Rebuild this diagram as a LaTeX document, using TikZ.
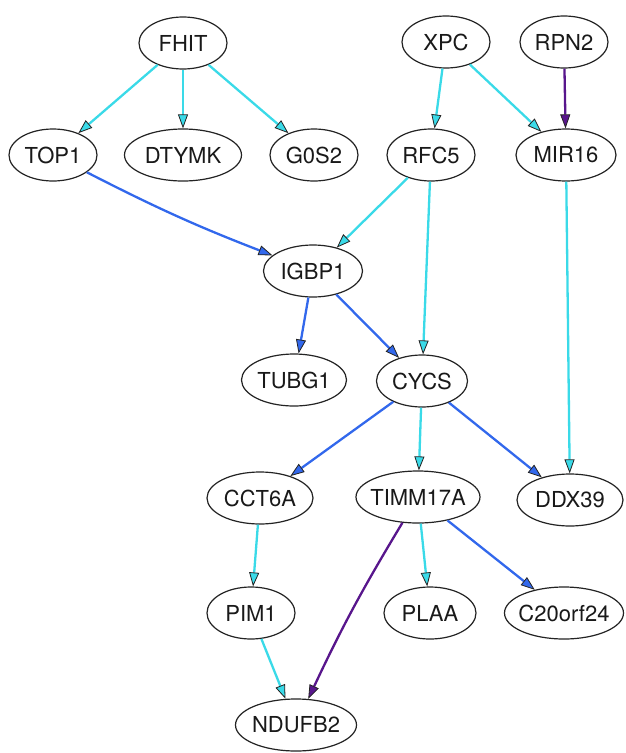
\documentclass[tikz,border=0pt]{standalone}
\usepackage{fontspec}
\setmainfont{TeX Gyre Heros}
\usetikzlibrary{shapes.geometric,arrows.meta}
\definecolor{ecyan}{RGB}{58,218,232}
\definecolor{eblue}{RGB}{50,104,236}
\definecolor{epurple}{RGB}{88,22,140}
\definecolor{nline}{RGB}{35,35,35}
\tikzset{
  gene/.style={ellipse, draw=nline, line width=1.2pt, fill=white,
    minimum height=52pt, inner xsep=-8pt, inner ysep=0pt,
    font=\fontsize{22}{24}\selectfont, text=black!90},
  ecy/.style={draw=ecyan, line width=2.3pt, -{Triangle[length=14pt,width=10pt,color=nline,fill=ecyan,line width=0.8pt]}},
  ebl/.style={draw=eblue, line width=2.3pt, -{Triangle[length=14pt,width=10pt,color=nline,fill=eblue,line width=0.8pt]}},
  epu/.style={draw=epurple, line width=2.3pt, -{Triangle[length=14pt,width=10pt,color=nline,fill=epurple,line width=0.8pt]}}
}
\begin{document}
\begin{tikzpicture}[x=1pt,y=-1pt]
\useasboundingbox (0,0) rectangle (625,753);
% row 1
\node[gene, minimum width=88pt] (FHIT) at (183,43) {FHIT};
\node[gene, minimum width=88pt] (XPC) at (446,42) {XPC};
\node[gene, minimum width=88pt] (RPN2) at (564,42) {RPN2};
% row 2
\node[gene, minimum width=88pt] (TOP1) at (53,155) {TOP1};
\node[gene, minimum width=117pt] (DTYMK) at (183,155) {DTYMK};
\node[gene, minimum width=88pt] (G0S2) at (314,155) {G0S2};
\node[gene, minimum width=88pt] (RFC5) at (431,155) {RFC5};
\node[gene, minimum width=100pt] (MIR16) at (566,155) {MIR16};
% row 3
\node[gene, minimum width=99pt] (IGBP1) at (313,271) {IGBP1};
% row 4
\node[gene, minimum width=105pt] (TUBG1) at (294,380) {TUBG1};
\node[gene, minimum width=91pt] (CYCS) at (422,381) {CYCS};
% row 5
\node[gene, minimum width=106pt] (CCT6A) at (260,498) {CCT6A};
\node[gene, minimum width=124pt] (TIMM17A) at (418,497) {TIMM17A};
\node[gene, minimum width=106pt] (DDX39) at (570,500) {DDX39};
% row 6
\node[gene, minimum width=88pt] (PIM1) at (251,613) {PIM1};
\node[gene, minimum width=92pt] (PLAA) at (430,613) {PLAA};
\node[gene, minimum width=119pt] (C20orf24) at (564,613) {C20orf24};
% row 7
\node[gene, minimum width=121pt] (NDUFB2) at (296,725) {NDUFB2};
% edges
\draw[ecy] (FHIT) -- (TOP1);
\draw[ecy] (FHIT) -- (DTYMK);
\draw[ecy] (FHIT) -- (G0S2);
\draw[ecy] (XPC) -- (RFC5);
\draw[ecy] (XPC) -- (MIR16);
\draw[epu] (RPN2) -- (MIR16);
\draw[ebl] (TOP1) to[bend right=3] (IGBP1);
\draw[ecy] (RFC5) -- (IGBP1);
\draw[ecy] (RFC5) -- (CYCS);
\draw[ecy] (MIR16) -- (DDX39);
\draw[ebl] (IGBP1) -- (TUBG1);
\draw[ebl] (IGBP1) -- (CYCS);
\draw[ebl] (CYCS) -- (CCT6A);
\draw[ecy] (CYCS) -- (TIMM17A);
\draw[ebl] (CYCS) -- (DDX39);
\draw[ecy] (CCT6A) -- (PIM1);
\draw[epu] (TIMM17A) to[bend right=3] (NDUFB2);
\draw[ecy] (TIMM17A) -- (PLAA);
\draw[ebl] (TIMM17A) -- (C20orf24);
\draw[ecy] (PIM1) -- (NDUFB2);
\end{tikzpicture}
\end{document}
